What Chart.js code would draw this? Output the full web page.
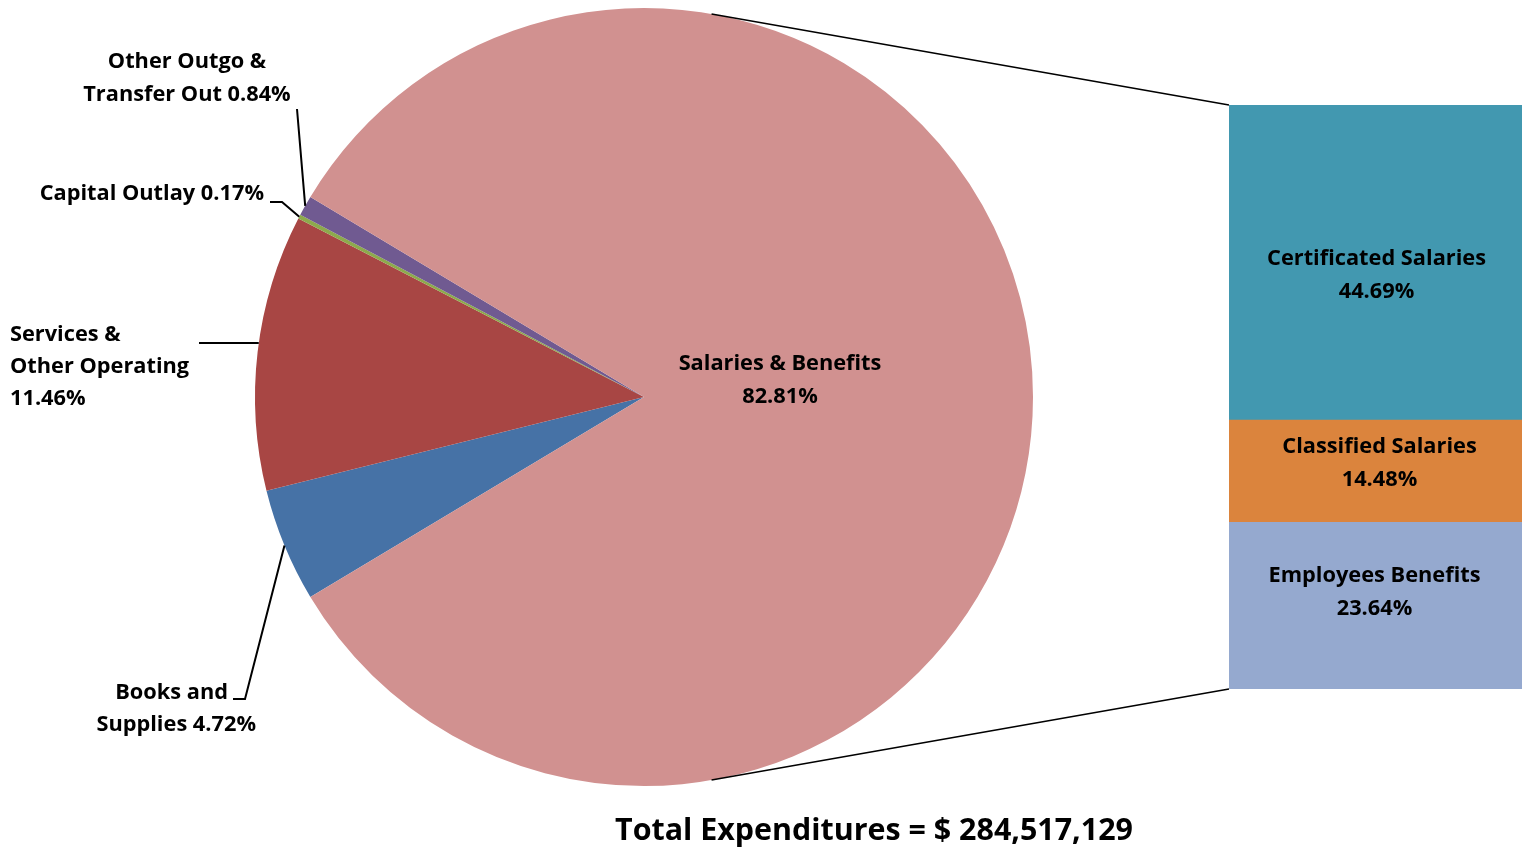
<!DOCTYPE html>
<html>
<head>
<meta charset="utf-8">
<script src="https://cdn.jsdelivr.net/npm/chart.js@4.4.1/dist/chart.umd.min.js"></script>
<style>
  html, body { margin: 0; padding: 0; background: #fff; }
  #wrap { position: relative; width: 1522px; height: 851px; }
  #pieChart { position: absolute; left: 0; top: 0; }
  #barChart { position: absolute; left: 1229px; top: 105px; }
</style>
</head>
<body>
<div id="wrap">
  <canvas id="pieChart" width="1522" height="851"></canvas>
  <canvas id="barChart" width="293" height="584"></canvas>
</div>
<script>
// pie: order is clockwise starting from the lower left
const pieLabels = ['Books and Supplies', 'Services & Other Operating', 'Capital Outlay', 'Other Outgo & Transfer Out', 'Salaries & Benefits'];
const pieValues = [4.72, 11.46, 0.17, 0.84, 82.81];
const pieColors = ['#4672A6', '#A84644', '#8DAA4C', '#705A91', '#D19190'];

// bar: breakdown of Salaries & Benefits (bottom to top)
const barLabels = ['Employees Benefits', 'Classified Salaries', 'Certificated Salaries'];
const barValues = [23.64, 14.48, 44.69];
const barColors = ['#95A9CF', '#DB843D', '#4298B0'];

const totalText = 'Total Expenditures = $ 284,517,129';
const FONT = '"Open Sans", sans-serif';

const smallSum = pieValues.slice(0, 4).reduce((a, b) => a + b, 0);
const startRot = 270 - smallSum * 3.6 / 2;   // centre the small slices on the left

function pct(v) { return v.toFixed(2) + '%'; }

// pick a font size so that a sample string gets the width it has in the original
function fitFont(ctx, sample, width) {
  ctx.font = 'bold 20px ' + FONT;
  const size = 20 * width / ctx.measureText(sample).width;
  return 'bold ' + size.toFixed(2) + 'px ' + FONT;
}

function drawLines(ctx, lines, x, y, align, lh) {
  ctx.textAlign = align;
  lines.forEach((t, i) => ctx.fillText(t, x, y + i * lh));
}

let labelFont = null;

const pieLabelPlugin = {
  id: 'pieLabels',
  afterDraw(chart) {
    const ctx = chart.ctx;
    const arcs = chart.getDatasetMeta(0).data;
    const cx = arcs[0].x, cy = arcs[0].y, r = arcs[0].outerRadius;
    const edge = (i) => {
      const a = (arcs[i].startAngle + arcs[i].endAngle) / 2;
      return [cx + Math.cos(a) * r, cy + Math.sin(a) * r];
    };
    ctx.save();
    ctx.strokeStyle = '#000';
    ctx.lineWidth = 1.5;

    // connectors from the pie to the bar
    const a1 = -80 * Math.PI / 180, a2 = 80 * Math.PI / 180;
    ctx.beginPath();
    ctx.moveTo(cx + Math.cos(a1) * r, cy + Math.sin(a1) * r);
    ctx.lineTo(1229, 105);
    ctx.moveTo(cx + Math.cos(a2) * r, cy + Math.sin(a2) * r);
    ctx.lineTo(1229, 689);
    ctx.stroke();

    // leader lines
    let p;
    ctx.lineWidth = 2;
    ctx.beginPath();
    p = edge(3);                 // other outgo
    ctx.moveTo(297, 109); ctx.lineTo(p[0], p[1]);
    p = edge(2);                 // capital outlay
    ctx.moveTo(270, 202); ctx.lineTo(282, 202); ctx.lineTo(p[0], p[1]);
    ctx.moveTo(199, 343);        // services
    ctx.lineTo(cx - Math.sqrt(r * r - (343 - cy) * (343 - cy)), 343);
    p = edge(0);                 // books
    ctx.moveTo(233, 699); ctx.lineTo(245, 699); ctx.lineTo(p[0], p[1]);
    ctx.stroke();

    ctx.fillStyle = '#000';
    ctx.textBaseline = 'middle';
    labelFont = labelFont || fitFont(ctx, 'Certificated Salaries', 219);
    ctx.font = labelFont;
    drawLines(ctx, ['Other Outgo &', 'Transfer Out ' + pct(pieValues[3])], 187, 62, 'center', 33);
    drawLines(ctx, ['Capital Outlay ' + pct(pieValues[2])], 264, 194, 'right', 33);
    drawLines(ctx, ['Services &', 'Other Operating', pct(pieValues[1])], 10, 335, 'left', 32);
    drawLines(ctx, ['Books and'], 228, 693, 'right', 33);
    drawLines(ctx, ['Supplies ' + pct(pieValues[0])], 256, 725, 'right', 33);
    drawLines(ctx, ['Salaries & Benefits', pct(pieValues[4])], cx + 136, cy - 33, 'center', 33);

    ctx.font = fitFont(ctx, totalText, 518);
    drawLines(ctx, [totalText], 874, 831, 'center', 32);
    ctx.restore();
  }
};

new Chart(document.getElementById('pieChart'), {
  type: 'pie',
  data: {
    labels: pieLabels,
    datasets: [{ data: pieValues, backgroundColor: pieColors, borderWidth: 0 }]
  },
  options: {
    responsive: false,
    animation: false,
    rotation: startRot,
    layout: { padding: { left: 255, top: 8, right: 489, bottom: 65 } },
    plugins: { legend: { display: false }, tooltip: { enabled: false } }
  },
  plugins: [pieLabelPlugin]
});

const barLabelPlugin = {
  id: 'barLabels',
  afterDatasetsDraw(chart) {
    const ctx = chart.ctx;
    const nudge = [-14, -8, 12];
    const dx = [-1, 4, 1];
    ctx.save();
    ctx.fillStyle = '#000';
    ctx.textAlign = 'center';
    ctx.textBaseline = 'middle';
    ctx.font = fitFont(ctx, 'Certificated Salaries', 219);
    chart.data.datasets.forEach((ds, i) => {
      const el = chart.getDatasetMeta(i).data[0];
      const mid = (el.y + el.base) / 2 + nudge[i];
      ctx.fillText(ds.label, el.x + dx[i], mid - 16);
      ctx.fillText(pct(ds.data[0]), el.x + dx[i], mid + 17);
    });
    ctx.restore();
  }
};

new Chart(document.getElementById('barChart'), {
  type: 'bar',
  data: {
    labels: ['Salaries & Benefits'],
    datasets: barLabels.map((l, i) => ({
      label: l, data: [barValues[i]], backgroundColor: barColors[i],
      borderWidth: 0, barPercentage: 1, categoryPercentage: 1
    }))
  },
  options: {
    responsive: false,
    animation: false,
    layout: { padding: 0 },
    scales: {
      x: { stacked: true, display: false },
      y: { stacked: true, display: false, min: 0, max: barValues.reduce((a, b) => a + b, 0) }
    },
    plugins: { legend: { display: false }, tooltip: { enabled: false } }
  },
  plugins: [barLabelPlugin]
});
</script>
</body>
</html>
